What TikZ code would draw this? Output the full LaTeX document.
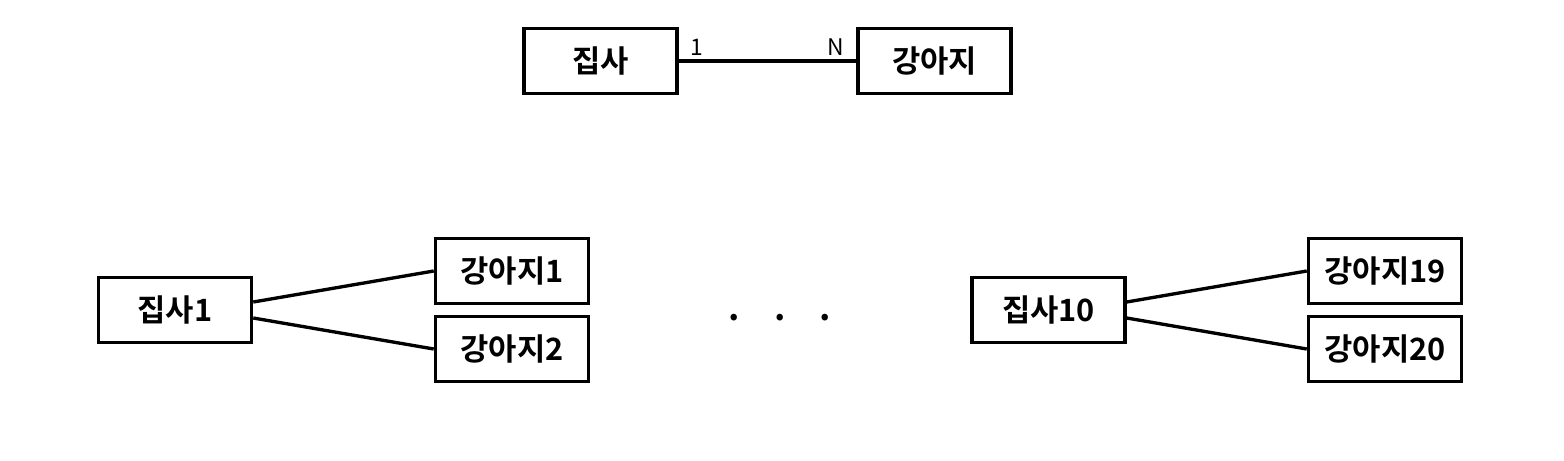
\documentclass[tikz,border=0pt]{standalone}
\usepackage{fontspec}
\setmainfont{Noto Sans CJK KR}[BoldFont={Noto Sans CJK KR Bold}]
\usetikzlibrary{positioning}

\begin{document}
\begin{tikzpicture}[
    entity/.style={
        draw,
        rectangle,
        line width=2pt,
        align=center,
        minimum height=1.3cm,
        minimum width=3.06cm,
        font=\bfseries\fontsize{17.5}{20}\selectfont
    },
    link/.style={line width=1.9pt},
    card/.style={font=\fontsize{13}{15}\selectfont, inner sep=2pt}
]
\useasboundingbox (0,0) rectangle (31.28,-9.2);

% ===== Top: relation =====
\node[entity] (jipsa)   at (12.01,-1.22) {집사};
\node[entity] (gangaji) at (18.69,-1.22) {강아지};
\draw[link] (jipsa) -- node[card, pos=0, above right, xshift=4pt] {1}
                       node[card, pos=1, above left, xshift=-4pt] {N} (gangaji);

% ===== Bottom left =====
\node[entity] (jipsa1)   at (3.5,-6.2)    {집사1};
\node[entity] (gangaji1) at (10.24,-5.42) {강아지1};
\node[entity] (gangaji2) at (10.24,-6.98) {강아지2};

% ===== Bottom right =====
\node[entity] (jipsa10)   at (20.97,-6.2)  {집사10};
\node[entity] (gangaji19) at (27.7,-5.42)  {강아지19};
\node[entity] (gangaji20) at (27.7,-6.98)  {강아지20};

% ===== Dots =====
\node[font=\bfseries\fontsize{20}{22}\selectfont] (dots) at (15.6,-6.36)
    {.\hspace{0.68cm}.\hspace{0.68cm}.};

% ===== Links =====
\draw[link] ([yshift=0.16cm]jipsa1.east) -- (gangaji1.west);
\draw[link] ([yshift=-0.16cm]jipsa1.east) -- (gangaji2.west);
\draw[link] ([yshift=0.16cm]jipsa10.east) -- (gangaji19.west);
\draw[link] ([yshift=-0.16cm]jipsa10.east) -- (gangaji20.west);

\end{tikzpicture}
\end{document}
